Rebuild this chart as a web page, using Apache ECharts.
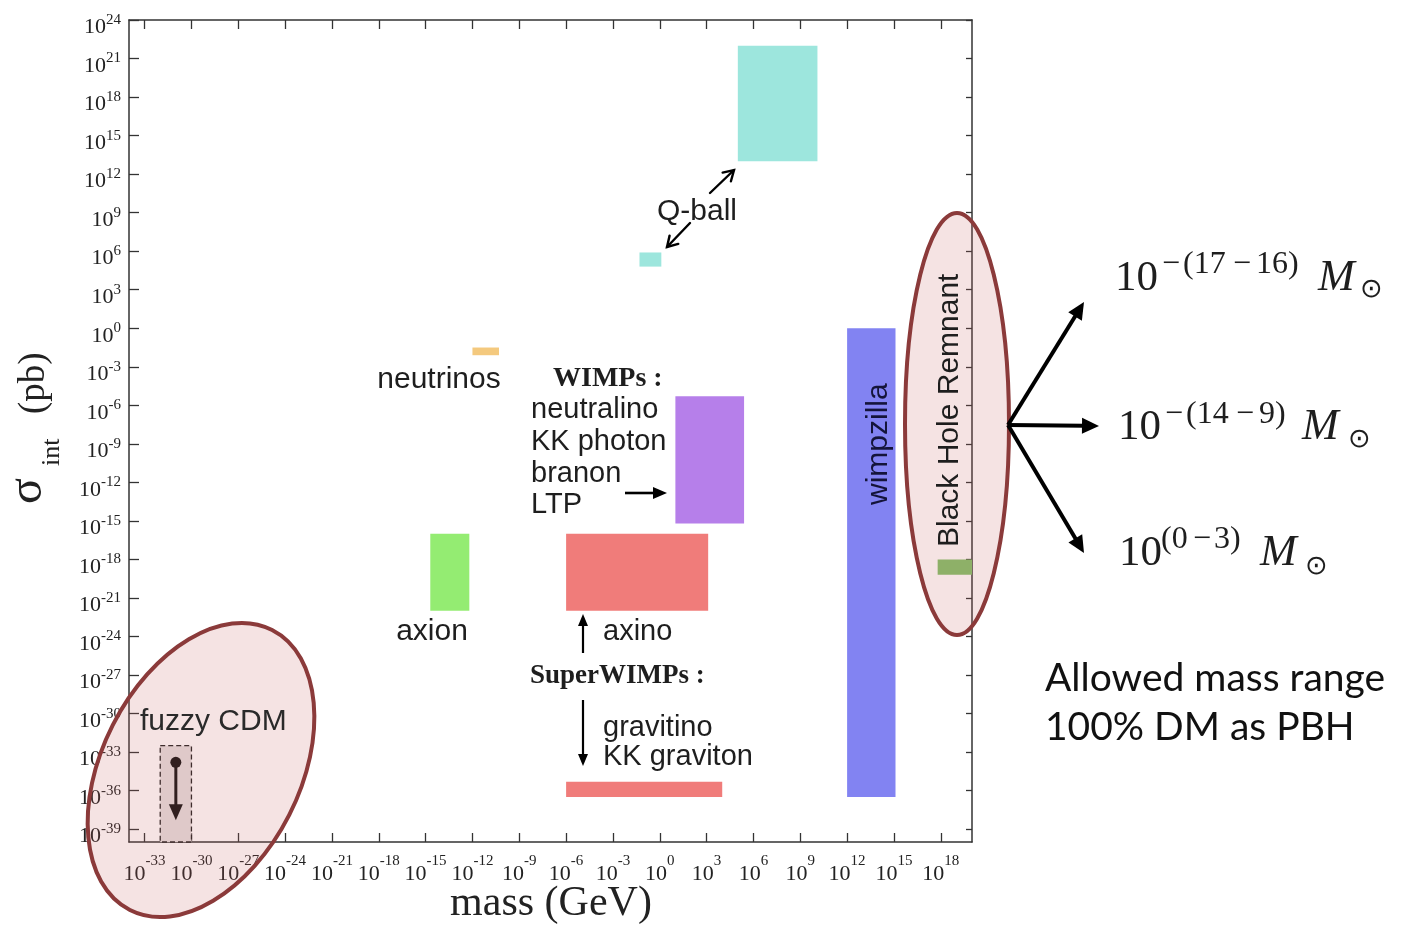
<!DOCTYPE html>
<html>
<head>
<meta charset="utf-8">
<script src="https://cdn.jsdelivr.net/npm/echarts@6/dist/echarts.min.js"></script>
<style>
html,body{margin:0;padding:0;background:#fff;}
#chart{width:1402px;height:930px;}
</style>
</head>
<body>
<div id="chart"></div>
<script>
// ---- DATA (log10 of mass in GeV, log10 of sigma_int in pb) ----
const categories = ['Q-ball (heavy)', 'Q-ball (light)', 'neutrinos', 'WIMPs', 'axion', 'axino',
                    'gravitino / KK graviton', 'wimpzilla', 'Black Hole Remnant', 'fuzzy CDM'];
const massLo  = [5,    -1.3, -12,  1,     -14.7, -6,  -6,    12,    17.8,  -32];
const massHi  = [10.1,  0.1, -10.3, 5.4,  -12.2,  3.1, 4,    15.1,  20,    -30];
const sigmaLo = [13,    4.8,  -2.1, -15.2, -22,  -22, -36.5, -36.5, -19.2, -40];
const sigmaHi = [22,    5.9,  -1.5, -5.3,  -16,  -16, -35.3,  0,    -18,   -32.5];
// fuzzy CDM upper-limit arrow: mass, from sigma, to sigma
const fuzzyLimit = [-31, -33.8, -38.3];
// tick positions (exponents)
const massTicks  = [-33, -30, -27, -24, -21, -18, -15, -12, -9, -6, -3, 0, 3, 6, 9, 12, 15, 18];
const sigmaTicks = [-39, -36, -33, -30, -27, -24, -21, -18, -15, -12, -9, -6, -3, 0, 3, 6, 9, 12, 15, 18, 21, 24];

// ---- STYLES ----
const boxFill = ['#9de6dd', '#9de6dd', '#f4c97e', '#b67fea', '#94ec72', '#f07c7a',
                 '#f07c7a', '#8283f2', '#82c16a', '#e4e0e0'];
const SANS = '"Liberation Sans", Arial, Helvetica, sans-serif';
const SERIF = '"Liberation Serif", "Times New Roman", serif';
const INK = '#1e1e1e';
const AX = '#333';

const regionData = categories.map((c, i) => [massLo[i], massHi[i], sigmaLo[i], sigmaHi[i]]);

function renderBox(params, api) {
  const i = params.dataIndex;
  const p0 = api.coord([api.value(0), api.value(3)]);
  const p1 = api.coord([api.value(1), api.value(2)]);
  const isFuzzy = categories[i] === 'fuzzy CDM';
  return {
    type: 'rect',
    shape: {x: p0[0], y: p0[1], width: p1[0] - p0[0], height: p1[1] - p0[1]},
    style: {
      fill: boxFill[i],
      stroke: isFuzzy ? '#222' : null,
      lineWidth: isFuzzy ? 1.3 : 0,
      lineDash: isFuzzy ? [5, 3] : null
    }
  };
}

function renderLimit(params, api) {
  const a = api.coord([api.value(0), api.value(1)]);
  const b = api.coord([api.value(0), api.value(2)]);
  const hl = 16, hw = 7;
  return {
    type: 'group',
    children: [
      {type: 'circle', shape: {cx: a[0], cy: a[1], r: 5.5}, style: {fill: '#111'}},
      {type: 'line', shape: {x1: a[0], y1: a[1], x2: b[0], y2: b[1] - hl + 2}, style: {stroke: '#111', lineWidth: 3}},
      {type: 'polygon', shape: {points: [[b[0], b[1]], [b[0] - hw, b[1] - hl], [b[0] + hw, b[1] - hl]]}, style: {fill: '#111'}}
    ]
  };
}

// ---- ANNOTATION HELPERS (pixel layout) ----
function txt(text, x, baseline, size, o) {
  o = o || {};
  const fam = o.family || SANS;
  const font = (o.italic ? 'italic ' : '') + (o.weight || 'normal') + ' ' + size + 'px ' + fam;
  const y = (o.mid !== undefined) ? o.mid : baseline - 0.34 * size;
  const al = o.align || 'left';
  return {type: 'text', x: x, y: y, rotation: o.rot || 0, z: o.z || 120, silent: true,
    style: {text: text, font: font, fill: o.color || INK, align: al, verticalAlign: 'middle',
            textAlign: al, textVerticalAlign: 'middle'}};
}
function arrow(x1, y1, x2, y2, o) {
  const lw = o.lw, hl = o.hl, hw = o.hw;
  const dx = x2 - x1, dy = y2 - y1, L = Math.hypot(dx, dy), ux = dx / L, uy = dy / L;
  const bx = x2 - ux * hl, by = y2 - uy * hl, px = -uy, py = ux;
  const els = [];
  if (o.open) {
    els.push({type: 'line', z: 130, silent: true, shape: {x1: x1, y1: y1, x2: x2, y2: y2},
      style: {stroke: '#000', lineWidth: lw, lineCap: 'round'}});
    els.push({type: 'polyline', z: 130, silent: true,
      shape: {points: [[bx + px * hw, by + py * hw], [x2, y2], [bx - px * hw, by - py * hw]]},
      style: {stroke: '#000', lineWidth: lw, fill: null, lineJoin: 'miter', lineCap: 'round'}});
  } else {
    els.push({type: 'line', z: 130, silent: true, shape: {x1: x1, y1: y1, x2: bx + ux * 2, y2: by + uy * 2},
      style: {stroke: '#000', lineWidth: lw, lineCap: 'butt'}});
    els.push({type: 'polygon', z: 130, silent: true,
      shape: {points: [[x2, y2], [bx + px * hw, by + py * hw], [bx - px * hw, by - py * hw]]},
      style: {fill: '#000'}});
  }
  return els;
}
// superscript written piece by piece so minus signs get math spacing
function supLine(parts, baseline) {
  return parts.map(p => txt(p[0], p[1], baseline, 32, {family: SERIF, align: p[2] || 'left'}));
}

const ellipseStyle = {fill: 'rgba(200,100,100,0.18)', stroke: '#8b3a3a', lineWidth: 4};
const R90 = Math.PI / 2;

const annotations = [
  // highlighted regions
  {type: 'ellipse', x: 201, y: 770, rotation: -0.47, z: 100, silent: true,
   shape: {cx: 0, cy: 0, rx: 99, ry: 157}, style: ellipseStyle},
  {type: 'ellipse', x: 957, y: 424, z: 100, silent: true,
   shape: {cx: 0, cy: 0, rx: 52, ry: 211}, style: ellipseStyle},

  // labels inside the plot
  txt('Q-ball', 697, 222, 30, {align: 'center'}),
  txt('neutrinos', 439, 390, 30, {align: 'center'}),
  txt('WIMPs :', 553, 388, 28, {family: SERIF, weight: 'bold'}),
  txt('neutralino', 531, 420, 29),
  txt('KK photon', 531, 452, 29),
  txt('branon', 531, 484, 29),
  txt('LTP', 531, 515, 29),
  txt('axion', 432, 642, 30, {align: 'center'}),
  txt('axino', 603, 642, 29),
  txt('SuperWIMPs :', 530, 685, 27, {family: SERIF, weight: 'bold'}),
  txt('gravitino', 603, 738, 29),
  txt('KK graviton', 603, 767, 29),
  txt('fuzzy CDM', 140, 732, 30, {color: '#2a2a2a'}),
  txt('wimpzilla', 879, 0, 30, {rot: R90, mid: 505, color: '#14143a'}),
  txt('Black Hole Remnant', 950, 0, 30, {rot: R90, mid: 547}),

  // axis titles
  txt('mass (GeV)', 551, 918, 42, {family: SERIF, align: 'center', color: '#222'}),
  txt('σ', 28, 0, 48, {family: SERIF, rot: R90, mid: 504, color: '#222'}),
  txt('int', 52, 0, 26, {family: SERIF, rot: R90, mid: 466, color: '#222'}),
  txt('(pb)', 34, 0, 37, {family: SERIF, rot: R90, mid: 414, color: '#222'}),

  // PBH mass windows
  txt('10', 1115, 293, 43, {family: SERIF}),
  txt('M', 1318, 293, 44, {family: SERIF, italic: true}),
  txt('⊙', 1360, 0, 27, {mid: 290}),
  txt('10', 1118, 442, 43, {family: SERIF}),
  txt('M', 1302, 442, 44, {family: SERIF, italic: true}),
  txt('⊙', 1348, 0, 27, {mid: 440}),
  txt('10', 1119, 568, 43, {family: SERIF}),
  txt('M', 1260, 568, 44, {family: SERIF, italic: true}),
  txt('⊙', 1305, 0, 27, {mid: 567}),

  txt('Allowed mass range', 1045, 692, 39, {family: 'Lato, "Open Sans", sans-serif', color: '#111'}),
  txt('100% DM as PBH', 1045, 741, 39, {family: 'Lato, "Open Sans", sans-serif', color: '#111'})
].concat(
  supLine([['−', 1171, 'center'], ['(17', 1183], ['−', 1242, 'center'], ['16)', 1256]], 275),
  supLine([['−', 1174, 'center'], ['(14', 1186], ['−', 1245, 'center'], ['9)', 1259]], 425),
  supLine([['(0', 1161], ['−', 1202, 'center'], ['3)', 1214]], 550),
  arrow(710, 193, 734, 170, {lw: 2.4, hl: 10, hw: 6, open: true}),
  arrow(690, 223, 667, 247, {lw: 2.4, hl: 10, hw: 6, open: true}),
  arrow(625, 493, 667, 493, {lw: 2.6, hl: 14, hw: 6}),
  arrow(583, 653, 583, 614, {lw: 2.2, hl: 12, hw: 5}),
  arrow(583, 700, 583, 766, {lw: 2.2, hl: 12, hw: 5}),
  arrow(1008, 425, 1084, 302, {lw: 4, hl: 17, hw: 8}),
  arrow(1008, 425, 1099, 426, {lw: 4, hl: 17, hw: 8}),
  arrow(1008, 425, 1084, 553, {lw: 4, hl: 17, hw: 8})
);

// ---- AXES ----
const xRich = {
  b: {fontFamily: SERIF, fontSize: 22, lineHeight: 31, verticalAlign: 'bottom', color: '#222'},
  s: {fontFamily: SERIF, fontSize: 15, lineHeight: 12, verticalAlign: 'top', color: '#222'}
};
const yRich = {
  b: {fontFamily: SERIF, fontSize: 22, lineHeight: 26, verticalAlign: 'bottom', color: '#222'},
  s: {fontFamily: SERIF, fontSize: 15, lineHeight: 12, verticalAlign: 'top', color: '#222'}
};
const powFmt = v => '{b|10}{s|' + v + '}';
const axisLine = {onZero: false, lineStyle: {color: AX, width: 1.5}};

const option = {
  animation: false,
  backgroundColor: '#ffffff',
  grid: {left: 129, top: 20, width: 843, height: 822, containLabel: false, outerBoundsMode: 'none'},
  xAxis: [
    {type: 'value', min: -34, max: 20, position: 'bottom', axisLine: axisLine, splitLine: {show: false},
     axisTick: {inside: true, length: 9, customValues: massTicks, lineStyle: {color: AX, width: 1.3}},
     axisLabel: {customValues: massTicks, formatter: powFmt, rich: xRich, margin: 12}},
    {type: 'value', min: -34, max: 20, position: 'top', axisLine: axisLine, splitLine: {show: false},
     axisTick: {inside: true, length: 9, customValues: massTicks, lineStyle: {color: AX, width: 1.3}},
     axisLabel: {show: false}}
  ],
  yAxis: [
    {type: 'value', min: -40, max: 24, position: 'left', axisLine: axisLine, splitLine: {show: false},
     axisTick: {inside: true, length: 10, customValues: sigmaTicks, lineStyle: {color: AX, width: 1.3}},
     axisLabel: {customValues: sigmaTicks, formatter: powFmt, rich: yRich, margin: 8, padding: [11, 0, 0, 0]}},
    {type: 'value', min: -40, max: 24, position: 'right', axisLine: axisLine, splitLine: {show: false},
     axisTick: {inside: true, length: 6, customValues: sigmaTicks, lineStyle: {color: AX, width: 1.3}},
     axisLabel: {show: false}}
  ],
  series: [
    {type: 'custom', name: 'dark matter candidates', data: regionData, renderItem: renderBox,
     encode: {x: [0, 1], y: [2, 3]}, z: 2, silent: true},
    {type: 'custom', name: 'fuzzy CDM limit', data: [fuzzyLimit], renderItem: renderLimit,
     encode: {x: 0, y: [1, 2]}, z: 3, silent: true}
  ],
  graphic: {elements: annotations}
};

const chart = echarts.init(document.getElementById('chart'));
chart.setOption(option);
</script>
</body>
</html>
